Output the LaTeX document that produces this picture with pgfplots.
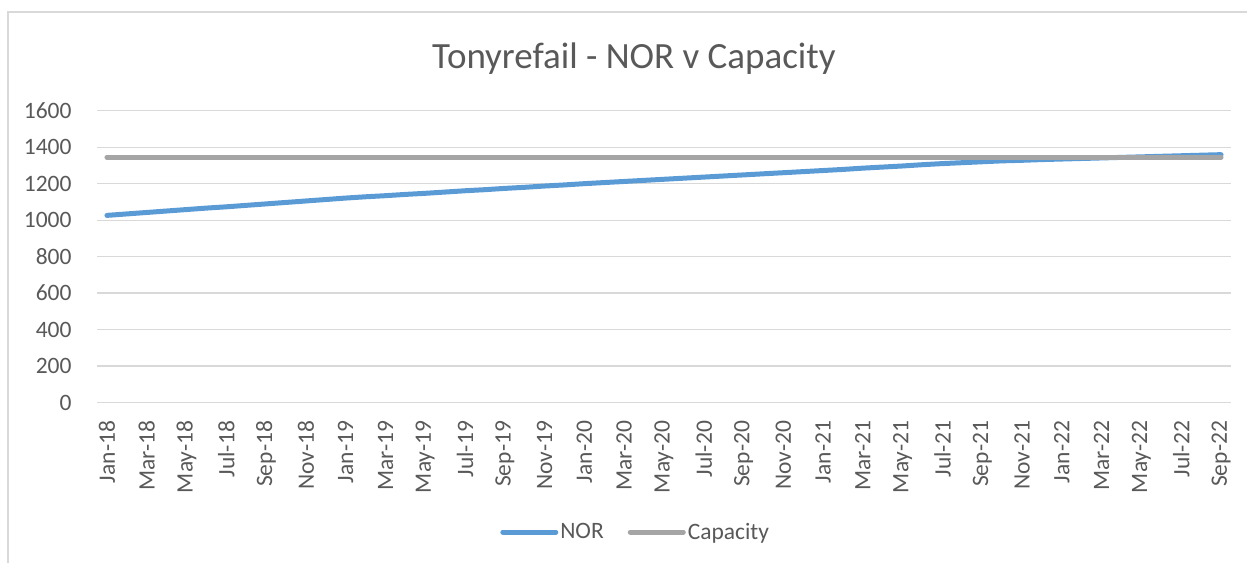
\documentclass[border=0pt]{standalone}
\usepackage{pgfplots}
\usepackage{pgfplotstable}
\pgfplotsset{compat=1.18}
\usepackage{fontspec}
\setmainfont{Carlito}
\definecolor{txt}{HTML}{595959}
\definecolor{gridc}{HTML}{D9D9D9}
\definecolor{norc}{HTML}{5B9BD5}
\definecolor{capc}{HTML}{A5A5A5}
\pgfplotstableread{
m NOR Cap
0 1026 1345
1 1034 1345
2 1042 1345
3 1050 1345
4 1058 1345
5 1066 1345
6 1073 1345
7 1081 1345
8 1089 1345
9 1097 1345
10 1105 1345
11 1113 1345
12 1121 1345
13 1128 1345
14 1134 1345
15 1141 1345
16 1147 1345
17 1154 1345
18 1161 1345
19 1167 1345
20 1174 1345
21 1180 1345
22 1187 1345
23 1193 1345
24 1200 1345
25 1206 1345
26 1212 1345
27 1218 1345
28 1224 1345
29 1230 1345
30 1236 1345
31 1242 1345
32 1248 1345
33 1254 1345
34 1260 1345
35 1266 1345
36 1272 1345
37 1278 1345
38 1285 1345
39 1291 1345
40 1297 1345
41 1304 1345
42 1310 1345
43 1315 1345
44 1320 1345
45 1325 1345
46 1328 1345
47 1332 1345
48 1335 1345
49 1338 1345
50 1341 1345
51 1344 1345
52 1347 1345
53 1350 1345
54 1353 1345
55 1356 1345
56 1359 1345
}\datatable
\begin{document}
\begin{tikzpicture}
\path[use as bounding box] (0pt,0pt) rectangle (1247pt,563pt);
\draw[gridc, line width=1.5pt] (8pt,0pt) -- (8pt,551pt) -- (1247pt,551pt);
\begin{axis}[
  at={(97pt,160.5pt)}, anchor=south west,
  scale only axis, width=1134pt, height=291.8pt,
  xmin=-0.5, xmax=56.5, ymin=0, ymax=1600,
  ytick={0,200,...,1600},
  xtick={0,2,...,56},
  xticklabels={Jan-18,Mar-18,May-18,Jul-18,Sep-18,Nov-18,Jan-19,Mar-19,May-19,Jul-19,Sep-19,Nov-19,Jan-20,Mar-20,May-20,Jul-20,Sep-20,Nov-20,Jan-21,Mar-21,May-21,Jul-21,Sep-21,Nov-21,Jan-22,Mar-22,May-22,Jul-22,Sep-22},
  extra x ticks={-0.5,1.5,...,55.5},
  extra x tick labels={},
  extra x tick style={major tick length=6pt, tick style={draw=gridc, line width=1.2pt}, xmajorgrids=false},
  major x tick style={draw=none},
  major y tick style={draw=none},
  tick align=outside,
  ymajorgrids, xmajorgrids=false,
  grid style={gridc, line width=1.2pt},
  axis x line*=bottom, axis y line*=left,
  y axis line style={draw=none},
  x axis line style={gridc, line width=1.2pt},
  /pgf/number format/assume math mode=true,
  /pgf/number format/1000 sep={},
  ticklabel style={font=\fontsize{23.5}{27}\selectfont, text=txt},
  xticklabel style={rotate=90, anchor=east, inner sep=0pt},
  xticklabel shift=14pt,
  yticklabel style={anchor=east, inner sep=0pt},
  yticklabel shift=21pt,
  title={Tonyrefail - NOR v Capacity},
  title style={at={(axis description cs:0.4735,1.158)}, anchor=center, font=\fontsize{37}{41}\selectfont, text=txt},
  legend columns=2,
  legend style={draw=none, fill=none, at={(axis description cs:0.475,-0.444)}, anchor=center,
     font=\fontsize{23.5}{27}\selectfont, text=txt,
     /tikz/every even column/.append style={column sep=22pt},
     nodes={inner sep=2pt}},
  legend image code/.code={\draw[#1, line cap=round] (0pt,0pt) -- (53pt,0pt);},
]
\addplot[norc, line width=5pt, line cap=round] table[x=m, y=NOR] {\datatable};
\addlegendentry{NOR}
\addplot[capc, line width=5pt, line cap=round] table[x=m, y=Cap] {\datatable};
\addlegendentry{Capacity}
\end{axis}
\end{tikzpicture}
\end{document}
